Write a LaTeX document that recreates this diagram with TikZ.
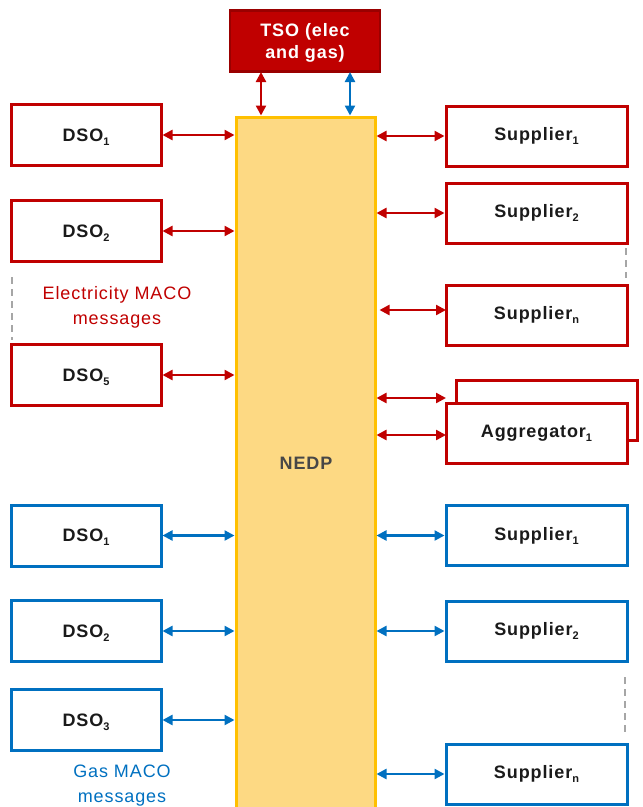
\documentclass[tikz,border=0pt]{standalone}
\usepackage{fontspec}
\setmainfont{Liberation Sans}[LetterSpace=5]
\usetikzlibrary{arrows.meta}
\definecolor{ered}{HTML}{C00000}
\definecolor{tsoborder}{HTML}{9A0000}
\definecolor{gblue}{HTML}{0070C0}
\definecolor{nedpfill}{HTML}{FDD983}
\definecolor{nedpborder}{HTML}{FFC000}
\definecolor{dashgray}{HTML}{A6A6A6}
\definecolor{txtdark}{HTML}{1A1A1A}
\newcommand{\sbs}[1]{\raisebox{-4pt}[0pt][0pt]{\fontsize{11}{11}\selectfont #1}}
\tikzset{
  x=1pt, y=-1pt,
  box/.style={draw, line width=3pt, fill=white, inner sep=0pt,
    font=\fontsize{18}{21}\selectfont\bfseries, text=txtdark},
  leftbox/.style={box, minimum width=150pt, minimum height=61pt},
  rightbox/.style={box, minimum width=181pt, minimum height=60pt},
  redbox/.style={draw=ered},
  bluebox/.style={draw=gblue},
  link/.style={line width=2.3pt, {Triangle[length=10pt,width=10pt]}-{Triangle[length=10pt,width=10pt]}},
  redlink/.style={link, ered},
  bluelink/.style={link, gblue},
  dots/.style={dashgray, line width=2pt, dash pattern=on 7pt off 5pt},
  caption/.style={font=\fontsize{18}{25}\selectfont, align=center}
}
\begin{document}
\begin{tikzpicture}
\useasboundingbox (0,0) rectangle (643,807);
\clip (0,0) rectangle (643,807);

% NEDP
\node[draw=nedpborder, fill=nedpfill, line width=3pt, minimum width=139pt, minimum height=720pt, inner sep=0pt] (nedp) at (305.5,477) {};
\node[font=\fontsize{18}{21}\selectfont\bfseries, text=black!72] (nedplbl) at (306,463) {NEDP};

% TSO
\node[draw=tsoborder, fill=ered, line width=2.5pt, minimum width=150pt, minimum height=61pt, inner sep=0pt] (tso) at (305,41) {};
\node[align=center, text=white, font=\fontsize{18}{22}\selectfont\bfseries] (tsotext) at (305,43) {TSO (elec\\and gas)};

% Electricity DSOs
\node[leftbox, redbox] (edso1) at (86,135) {DSO\sbs{1}};
\node[leftbox, redbox] (edso2) at (86,231) {DSO\sbs{2}};
\node[leftbox, redbox] (edso5) at (86,375) {DSO\sbs{5}};

% Electricity suppliers
\node[rightbox, redbox] (esup1) at (536.5,136) {Supplier\sbs{1}};
\node[rightbox, redbox] (esup2) at (536.5,213) {Supplier\sbs{2}};
\node[rightbox, redbox] (esupn) at (536.5,315) {Supplier\sbs{n}};
\node[rightbox, redbox] (aggb) at (547,410) {};
\node[rightbox, redbox] (agg) at (536.5,433) {Aggregator\sbs{1}};

% Gas DSOs
\node[leftbox, bluebox] (gdso1) at (86,535.5) {DSO\sbs{1}};
\node[leftbox, bluebox] (gdso2) at (86,631) {DSO\sbs{2}};
\node[leftbox, bluebox] (gdso3) at (86,720) {DSO\sbs{3}};

% Gas suppliers
\node[rightbox, bluebox] (gsup1) at (536.5,535.5) {Supplier\sbs{1}};
\node[rightbox, bluebox] (gsup2) at (536.5,631) {Supplier\sbs{2}};
\node[rightbox, bluebox] (gsupn) at (536.5,774) {Supplier\sbs{n}};

% captions
\node[caption, text=ered] (ecap) at (117,307) {Electricity MACO\\messages};
\node[caption, text=gblue] (gcap) at (122,786) {Gas MACO\\messages};

% dashed continuation marks
\coordinate (d1a) at (12,277); \coordinate (d1b) at (12,340);
\coordinate (d2a) at (626,248); \coordinate (d2b) at (626,278);
\coordinate (d3a) at (625,677); \coordinate (d3b) at (625,732);
\draw[dots] (d1a) -- (d1b);
\draw[dots] (d2a) -- (d2b);
\draw[dots] (d3a) -- (d3b);

% TSO links
\coordinate (tr) at (261,72);
\coordinate (tb) at (350,72);
\draw[redlink] (tr) -- (tr |- nedp.north);
\draw[bluelink] (tb) -- (tb |- nedp.north);

% electricity links
\draw[redlink] (edso1.east) -- (edso1.east -| nedp.west);
\draw[redlink] (edso2.east) -- (edso2.east -| nedp.west);
\draw[redlink] (edso5.east) -- (edso5.east -| nedp.west);
\draw[redlink] (esup1.west -| nedp.east) -- (esup1.west);
\draw[redlink] (esup2.west -| nedp.east) -- (esup2.west);
\coordinate (sn) at (446,310);
\draw[redlink] ([xshift=3pt]sn -| nedp.east) -- (sn);
\coordinate (ag1) at (446,398);
\coordinate (ag2) at (446,435);
\draw[redlink] (ag1 -| nedp.east) -- (ag1);
\draw[redlink] (ag2 -| nedp.east) -- (ag2);

% gas links
\draw[bluelink] (gdso1.east) -- (gdso1.east -| nedp.west);
\draw[bluelink] (gdso2.east) -- (gdso2.east -| nedp.west);
\draw[bluelink] (gdso3.east) -- (gdso3.east -| nedp.west);
\draw[bluelink] (gsup1.west -| nedp.east) -- (gsup1.west);
\draw[bluelink] (gsup2.west -| nedp.east) -- (gsup2.west);
\draw[bluelink] (gsupn.west -| nedp.east) -- (gsupn.west);
\end{tikzpicture}
\end{document}
